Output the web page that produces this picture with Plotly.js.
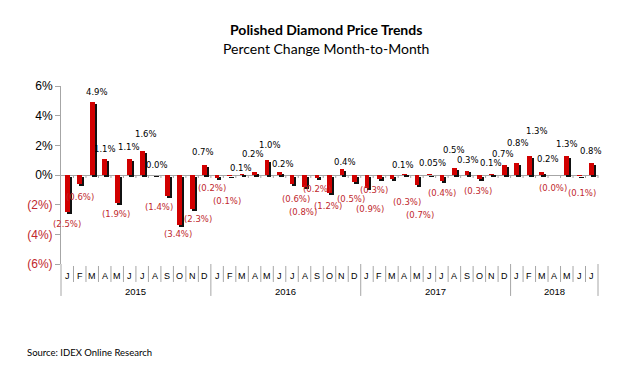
<!DOCTYPE html>
<html><head><meta charset="utf-8">
<script src="https://cdn.plot.ly/plotly-3.0.1.min.js"></script>
<style>html,body{margin:0;padding:0;background:#fff;}</style>
</head><body><div id="chart" style="width:643px;height:383px;"></div>
<script>
// ---- data ----
const monthLetters = ['J','F','M','A','M','J','J','A','S','O','N','D'];
const years = ['2015','2016','2017','2018'];
const monthsPerYear = [12, 12, 12, 7];
const values = [
  -2.5, -0.6, 4.9, 1.1, -1.9, 1.1, 1.6, 0.03, -1.4, -3.4, -2.3, 0.7,
  -0.2, -0.1, 0.1, 0.2, 1.0, 0.2, -0.6, -0.8, -0.2, -1.2, 0.4, -0.5,
  -0.9, -0.3, -0.3, 0.1, -0.7, 0.05, -0.4, 0.5, 0.3, -0.3, 0.1, 0.7,
  0.8, 1.3, 0.2, -0.03, 1.3, -0.1, 0.8
];
const valueLabels = [
  '(2.5%)','(0.6%)','4.9%','1.1%','(1.9%)','1.1%','1.6%','0.0%','(1.4%)','(3.4%)','(2.3%)','0.7%',
  '(0.2%)','(0.1%)','0.1%','0.2%','1.0%','0.2%','(0.6%)','(0.8%)','(0.2%)','(1.2%)','0.4%','(0.5%)',
  '(0.9%)','(0.3%)','(0.3%)','0.1%','(0.7%)','0.05%','(0.4%)','0.5%','0.3%','(0.3%)','0.1%','0.7%',
  '0.8%','1.3%','0.2%','(0.0%)','1.3%','(0.1%)','0.8%'
];
const yTickVals = [-6, -4, -2, 0, 2, 4, 6];
const yTickText = ['(6%)', '(4%)', '(2%)', '0%', '2%', '4%', '6%'];

// ---- label placement (pixel offsets from bar end, style only) ----
const labelShiftX = [
  -0.5, 0.3, 4.5, 0.3, -1.5, -0.4, 3.8, 2, -7.9, -1.3, 6.2, -1.9,
  -5.4, -2.3, -0.8, -1.3, 2.9, 3.7, 4, -1.2, -0.3, -1.2, 3, -3.5,
  3, -5.2, 14.7, -1.2, 3.1, 3.3, -0.2, -0.4, 1.4, -1.1, -1.2, -1.1,
  1.4, 7.3, 6.5, -1, -0.1, 2.4, -0.8
];
const labelGap = [
  12, 13, 10, 9.8, 11, 11.8, 16.8, 9.4, 11.6, 8.6, 10, 12.7,
  9.9, 24.4, 5.1, 17.6, 15, 8.2, 15.5, 25.6, 11.5, 13, 6.6, 16.7,
  21, 10.7, 22.4, 8.4, 29.7, 10.8, 11.9, 17.4, 10.4, 11.7, 10.1, 11.1,
  19.7, 24.8, 12.6, 13, 12.2, 17, 12
];

// ---- build ----
const RED = '#D10000', LABELRED = '#C0282D', GRAY = '#A6A6A6';
const cats = [];
years.forEach((yr, k) => { for (let m = 0; m < monthsPerYear[k]; m++) cats.push({yr, m: monthLetters[m]}); });
const N = cats.length;
const xs = cats.map((c, i) => i);

const barW = 0.38;
const shadow = {
  type: 'bar', x: xs, y: values, base: -0.13, width: barW, offset: -barW / 2 + 0.16,
  marker: {color: '#111111'}, hoverinfo: 'skip', showlegend: false
};
const bars = {
  type: 'bar', x: xs, y: values, width: barW, offset: -barW / 2,
  marker: {color: RED}, showlegend: false
};

const plotTop = 85.7, plotBot = 264, plotH = plotBot - plotTop;
const py = Y => (plotBot - Y) / plotH;

const shapes = [];
const annotations = [];
// value labels
values.forEach((v, i) => {
  annotations.push({xref: 'x', yref: 'y', x: xs[i], y: v, text: valueLabels[i], showarrow: false,
    xanchor: 'center', yanchor: 'middle',
    xshift: labelShiftX[i], yshift: v < 0 ? -labelGap[i] : labelGap[i],
    font: {family: 'DejaVu Sans', size: 8.5, color: v < 0 ? LABELRED : '#000000'}});
});
// month ticks & year separators
let idx = 0;
const yearBounds = [0];
monthsPerYear.forEach(c => { idx += c; yearBounds.push(idx); });
for (let b = 1; b < N; b++) {
  if (yearBounds.includes(b)) continue;
  shapes.push({type: 'line', xref: 'paper', yref: 'paper', x0: b / N, x1: b / N, y0: py(266), y1: py(282), line: {color: GRAY, width: 1}});
}
yearBounds.forEach(b => {
  shapes.push({type: 'line', xref: 'paper', yref: 'paper', x0: b / N, x1: b / N, y0: 0, y1: py(296), line: {color: GRAY, width: 1}});
});
// small ticks on zero line
for (let b = 1; b <= N; b++) {
  shapes.push({type: 'line', xref: 'paper', yref: 'paper', x0: b / N, x1: b / N, y0: 0.5, y1: 0.5 - 3 / plotH, line: {color: GRAY, width: 1}});
}
// month letters
cats.forEach((c, i) => {
  annotations.push({xref: 'x', yref: 'paper', x: xs[i], y: py(276), text: c.m, showarrow: false,
    font: {family: 'Liberation Sans', size: 9, color: '#000'}, yanchor: 'middle'});
});
// year labels
let start = 0;
years.forEach((yr, k) => {
  const mid = start + (monthsPerYear[k] - 1) / 2;
  annotations.push({xref: 'x', yref: 'paper', x: mid, y: py(292), text: yr, showarrow: false,
    font: {family: 'Liberation Sans', size: 9.5, color: '#000'}, yanchor: 'middle'});
  start += monthsPerYear[k];
});
// titles
annotations.push({xref: 'paper', yref: 'paper', x: (326 - 61) / 537, y: py(29), text: '<b>Polished Diamond Price Trends</b>',
  showarrow: false, font: {family: 'Lato', size: 14, color: '#000'}, yanchor: 'middle'});
annotations.push({xref: 'paper', yref: 'paper', x: (326 - 61) / 537, y: py(48), text: 'Percent Change Month-to-Month',
  showarrow: false, font: {family: 'Lato', size: 14, color: '#000'}, yanchor: 'middle'});
annotations.push({xref: 'paper', yref: 'paper', x: (25 - 61) / 537, xanchor: 'left', y: py(353), text: 'Source: IDEX Online Research',
  showarrow: false, font: {family: 'Lato', size: 9.5, color: '#000'}, yanchor: 'middle'});

const layout = {
  width: 643, height: 383,
  margin: {l: 61, r: 45, t: plotTop, b: 383 - plotBot, pad: 0},
  paper_bgcolor: '#fff', plot_bgcolor: '#fff',
  barmode: 'overlay', bargap: 0,
  xaxis: {range: [-0.5, N - 0.5], showticklabels: false, ticks: '', showgrid: false, zeroline: false, showline: false, fixedrange: true},
  yaxis: {range: [-6, 6], tickvals: yTickVals,
    ticktext: yTickText.map((t, i) => yTickVals[i] < 0 ? '<span style="color:' + LABELRED + '">' + t + '</span>' : t),
    tickfont: {family: 'Liberation Sans', size: 12, color: '#000'},
    ticks: 'outside', ticklen: 5, tickcolor: GRAY, showline: true, linecolor: GRAY, linewidth: 1,
    showgrid: false, zeroline: true, zerolinecolor: GRAY, zerolinewidth: 1, fixedrange: true},
  shapes, annotations
};
Plotly.newPlot('chart', [shadow, bars], layout, {displayModeBar: false, staticPlot: true});
</script></body></html>
